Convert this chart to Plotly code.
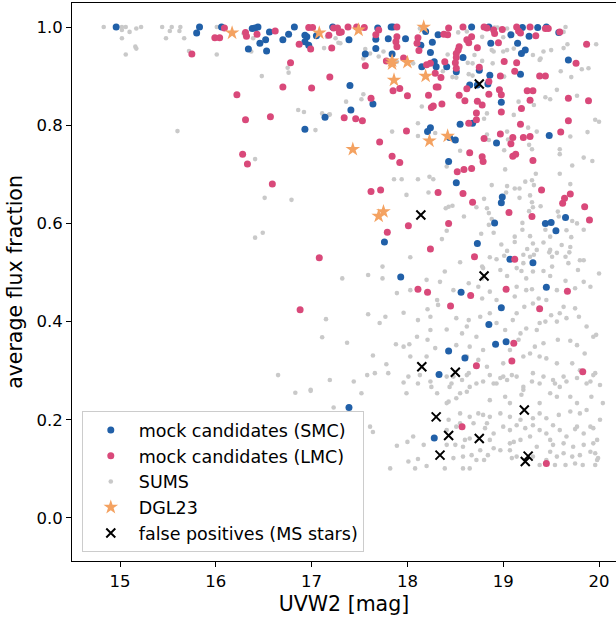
import plotly.graph_objects as go

# ---------------- data (UVW2 magnitude, average flux fraction) ----------------
smc_points = [
    (14.96, 1.0), (15.83, 1.0), (15.80, 0.988), (16.06, 1.0), (16.38, 0.997), (16.44, 1.0), (16.41, 0.998),
    (16.56, 0.990), (16.34, 0.955), (16.46, 0.967), (16.52, 0.974), (16.53, 0.951), (16.70, 0.974), (16.76, 0.985),
    (16.82, 1.0), (16.93, 0.983), (16.95, 0.980), (16.93, 0.970), (16.97, 0.963), (17.05, 0.982), (17.22, 1.0),
    (17.14, 0.816), (16.93, 0.792), (17.69, 0.998), (17.83, 1.0), (17.85, 1.0), (18.19, 0.991), (18.67, 1.0),
    (18.85, 1.0), (19.08, 0.984), (19.20, 0.999), (19.36, 0.999), (19.45, 1.0), (19.58, 0.989), (17.39, 0.974),
    (17.67, 0.975), (17.67, 0.956), (17.56, 0.945), (17.80, 0.976), (17.84, 0.945), (17.98, 0.976), (18.14, 0.963),
    (18.26, 0.969), (18.32, 0.984), (18.24, 0.948), (18.28, 0.929), (18.15, 0.919), (18.30, 0.919), (18.41, 0.919),
    (18.51, 0.909), (18.58, 0.938), (18.87, 0.967), (19.15, 0.967), (19.19, 0.946), (19.23, 0.953), (18.75, 0.912),
    (18.86, 0.902), (19.18, 0.904), (19.68, 0.933), (17.40, 0.881), (18.65, 0.882), (18.73, 0.882), (18.84, 0.884),
    (18.98, 0.847), (17.41, 0.831), (17.64, 0.843), (18.24, 0.795), (18.21, 0.787), (18.55, 0.802), (18.50, 0.770),
    (18.44, 0.775), (18.68, 0.804), (18.93, 0.764), (19.48, 0.779), (18.43, 0.726), (18.51, 0.683), (18.99, 0.654),
    (18.98, 0.642), (19.65, 0.612), (19.44, 0.600), (19.50, 0.602), (19.55, 0.585), (18.91, 0.601), (17.76, 0.562),
    (18.73, 0.559), (19.07, 0.527), (19.31, 0.520), (17.93, 0.491), (19.45, 0.470), (18.56, 0.460), (18.98, 0.428),
    (18.85, 0.394), (18.92, 0.354), (19.03, 0.359), (18.43, 0.340), (18.60, 0.326), (18.33, 0.292), (17.39, 0.225),
    (18.28, 0.163), (19.27, 0.981),
]

lmc_points = [
    (16.09, 0.998), (15.99, 0.978), (16.04, 0.978), (15.75, 0.945), (16.31, 0.989), (16.32, 0.981), (16.43, 0.985),
    (16.62, 0.992), (16.87, 0.965), (16.97, 0.999), (17.01, 0.999), (16.99, 0.955), (17.18, 0.983), (17.21, 0.957),
    (17.23, 0.998), (17.29, 0.989), (16.78, 0.927), (17.19, 0.898), (16.70, 0.878), (17.00, 0.876), (16.22, 0.862),
    (16.31, 0.811), (16.57, 0.817), (16.28, 0.741), (16.33, 0.721), (16.59, 0.680), (17.08, 0.530), (16.88, 0.424),
    (17.27, 0.998), (17.38, 1.0), (17.47, 1.0), (17.55, 0.999), (17.89, 1.0), (18.43, 0.998), (18.58, 1.0),
    (18.80, 1.0), (18.83, 0.998), (18.90, 0.994), (18.99, 0.995), (19.14, 1.0), (19.16, 0.992), (19.18, 0.988),
    (19.28, 1.0), (19.34, 0.982), (19.44, 0.997), (19.47, 0.997), (17.31, 0.990), (17.67, 0.984), (17.70, 0.994),
    (17.89, 0.980), (17.88, 0.970), (17.89, 0.960), (18.11, 0.978), (18.10, 0.967), (18.12, 0.952), (18.38, 0.985),
    (18.42, 0.984), (18.67, 0.980), (18.62, 0.974), (18.64, 0.968), (18.73, 0.958), (18.54, 0.960), (18.53, 0.953),
    (18.51, 0.946), (18.51, 0.938), (18.50, 0.927), (18.51, 0.916), (18.39, 0.929), (18.24, 0.926), (18.20, 0.923),
    (18.29, 0.906), (18.35, 0.897), (18.30, 0.878), (18.32, 0.878), (18.22, 0.861), (18.27, 0.839), (18.25, 0.836),
    (18.36, 0.843), (18.54, 0.861), (18.60, 0.850), (18.62, 0.874), (18.75, 0.918), (18.73, 0.849), (18.78, 0.841),
    (18.85, 0.863), (18.85, 0.889), (18.97, 0.900), (19.01, 0.930), (19.14, 0.927), (19.12, 0.910), (18.96, 0.872),
    (18.98, 0.862), (18.98, 0.827), (18.72, 0.825), (18.64, 0.804), (18.72, 0.811), (19.25, 0.870), (19.31, 0.870),
    (19.28, 0.851), (19.19, 0.834), (19.38, 0.900), (19.44, 0.900), (19.76, 0.926), (19.87, 0.965), (19.68, 0.855),
    (19.89, 0.850), (19.68, 0.809), (19.18, 0.802), (19.60, 0.786), (19.28, 0.777), (19.21, 0.775), (19.10, 0.775),
    (19.08, 0.762), (18.97, 0.782), (18.80, 0.773), (18.65, 0.744), (18.78, 0.736), (18.79, 0.726), (19.10, 0.737),
    (19.13, 0.741), (19.31, 0.728), (18.52, 0.705), (18.59, 0.710), (18.67, 0.712), (18.32, 0.663), (18.58, 0.661),
    (18.68, 0.643), (19.40, 0.668), (19.62, 0.641), (19.64, 0.651), (19.70, 0.660), (19.85, 0.634), (19.90, 0.607),
    (19.30, 0.614), (19.06, 0.622), (18.43, 0.600), (18.01, 0.595), (17.79, 0.582), (18.24, 0.548), (18.70, 0.532),
    (19.12, 0.527), (18.11, 0.466), (18.21, 0.460), (19.03, 0.466), (19.67, 0.462), (18.66, 0.453), (18.45, 0.432),
    (19.38, 0.426), (19.11, 0.356), (19.09, 0.320), (18.72, 0.310), (19.83, 0.298), (17.62, 0.665), (17.72, 0.668),
    (17.56, 0.921), (17.62, 0.855), (17.34, 0.815), (17.46, 0.813), (17.53, 0.809), (17.71, 0.766), (17.84, 0.737),
    (17.92, 0.724), (17.99, 0.788), (17.85, 0.870), (17.92, 0.875), (18.00, 0.860), (17.78, 0.931), (17.96, 0.937),
    (18.57, 0.186), (19.45, 0.111), (18.95, 0.968), (18.91, 0.987), (19.59, 0.990),
]

sums_points = [
    (14.83, 1.0), (15.02, 1.0), (15.06, 1.0), (15.02, 0.994), (15.10, 0.990), (15.02, 0.977), (15.17, 0.997),
    (15.22, 1.0), (15.06, 0.944), (15.16, 0.960), (15.17, 0.956), (15.44, 1.0), (15.54, 1.0), (15.52, 0.992),
    (15.48, 0.977), (15.63, 1.0), (15.62, 0.992), (15.67, 0.977), (15.72, 0.951), (16.01, 1.0), (16.01, 0.944),
    (16.39, 0.977), (16.37, 0.950), (16.29, 0.987), (16.48, 0.900), (16.75, 0.917), (16.76, 0.907), (16.86, 0.831),
    (16.92, 0.827), (17.11, 0.824), (17.18, 0.821), (17.04, 0.790), (15.60, 0.788), (16.41, 0.731), (16.51, 0.652),
    (16.79, 0.648), (17.16, 0.980), (17.13, 0.957), (17.25, 0.977), (17.28, 0.968),
    (16.41, 0.571), (16.49, 0.581), (17.15, 0.405), (17.11, 0.368), (16.65, 0.291), (16.99, 0.261),
    (16.83, 0.255), (16.99, 0.259), (17.23, 0.225),
    (17.30, 0.967), (17.56, 0.955), (17.61, 0.946), (17.70, 0.940), (17.75, 0.950), (17.54, 0.936), (17.89, 0.929),
    (18.06, 0.926), (18.13, 0.997), (18.53, 0.989), (18.62, 0.991), (18.78, 0.980), (18.91, 0.999), (18.94, 0.999),
    (19.00, 0.979), (18.88, 0.953), (18.90, 0.950), (19.00, 0.950), (19.04, 0.953), (19.31, 0.943), (19.38, 0.933),
    (19.42, 0.950), (19.50, 0.953), (19.63, 0.990), (19.65, 1.0), (19.67, 0.965), (19.97, 0.965), (19.82, 0.914),
    (19.89, 0.916), (19.71, 0.898), (19.60, 0.910), (19.56, 0.872), (19.44, 0.857), (19.49, 0.853), (19.77, 0.860),
    (19.32, 0.841), (19.16, 0.848), (19.11, 0.821), (19.26, 0.795), (19.35, 0.787), (19.70, 0.777), (19.88, 0.786),
    (19.96, 0.811), (20.00, 0.807), (19.59, 0.751), (19.59, 0.741), (19.84, 0.734), (19.93, 0.727), (19.72, 0.718),
    (19.59, 0.701), (19.34, 0.701), (19.30, 0.688), (19.23, 0.685), (19.32, 0.678), (19.04, 0.676), (19.03, 0.663),
    (18.88, 0.678), (19.02, 0.710), (19.01, 0.749), (19.27, 0.760), (18.85, 0.770), (18.83, 0.781), (18.55, 0.748),
    (18.41, 0.716), (18.23, 0.695), (18.11, 0.690), (17.94, 0.690), (17.86, 0.690), (17.99, 0.658), (18.22, 0.663),
    (18.11, 0.778), (17.84, 0.787), (18.11, 0.804), (18.29, 0.784), (19.12, 0.671), (19.70, 0.680), (17.36, 0.848),
    (17.52, 0.853), (17.54, 0.863), (17.19, 0.822), (18.37, 0.910), (18.42, 0.944), (18.63, 0.927), (18.64, 0.904),
    (18.70, 0.943), (18.68, 0.926), (18.78, 0.931), (18.89, 0.926), (19.01, 0.899), (18.51, 0.897), (18.47, 0.898),
    (18.15, 0.838), (18.83, 0.824), (18.80, 0.813), (19.04, 0.787), (19.05, 0.771), (19.30, 0.751), (19.17, 0.671),
    (19.28, 0.657), (19.30, 0.643), (18.80, 0.650), (18.83, 0.631), (18.85, 0.621), (18.88, 0.609), (18.85, 0.597),
    (18.90, 0.581), (18.72, 0.633), (19.17, 0.652), (19.27, 0.625), (19.39, 0.635), (19.31, 0.633), (19.57, 0.624),
    (19.58, 0.614), (19.72, 0.605), (19.66, 0.586), (19.71, 0.572), (19.20, 0.601), (19.20, 0.587), (19.44, 0.587),
    (19.42, 0.561), (19.12, 0.562), (18.98, 0.557), (19.04, 0.544), (19.25, 0.548), (19.32, 0.536), (19.48, 0.541),
    (19.56, 0.540), (19.51, 0.532), (19.65, 0.532), (19.69, 0.541), (19.80, 0.525), (18.78, 0.512), (18.86, 0.531),
    (18.93, 0.527), (19.21, 0.519), (19.51, 0.512), (19.84, 0.587), (19.77, 0.600), (19.11, 0.956), (19.39, 0.936),
    (19.63, 0.957), (18.68, 0.901), (19.04, 0.997),
    (18.40, 0.631), (18.43, 0.634), (18.47, 0.636), (18.59, 0.614), (18.41, 0.585), (18.36, 0.568), (18.03, 0.531),
    (17.74, 0.512), (18.55, 0.521), (18.27, 0.690),
    (18.77, 0.579), (19.12, 0.573), (19.28, 0.574), (19.35, 0.546), (19.68, 0.519), (19.78, 0.505), (20.00, 0.498),
    (19.84, 0.481), (19.91, 0.471), (19.75, 0.468), (19.65, 0.483), (19.56, 0.464), (19.49, 0.493), (19.42, 0.503),
    (19.31, 0.502), (19.24, 0.488), (19.19, 0.503), (19.14, 0.471), (19.24, 0.464), (19.30, 0.466), (19.37, 0.447),
    (19.45, 0.444), (19.31, 0.437), (19.22, 0.430), (19.14, 0.417), (19.10, 0.403), (19.24, 0.386), (19.35, 0.383),
    (19.38, 0.397), (19.44, 0.400), (19.50, 0.413), (19.56, 0.400), (19.59, 0.417), (19.66, 0.407), (19.75, 0.427),
    (19.79, 0.410), (19.63, 0.430), (19.87, 0.390), (19.94, 0.369), (19.97, 0.373), (19.85, 0.335), (19.77, 0.352),
    (19.70, 0.361), (19.57, 0.363), (19.42, 0.356), (19.33, 0.349), (19.28, 0.335), (19.21, 0.329), (19.38, 0.329),
    (19.45, 0.325), (19.56, 0.315), (19.72, 0.315), (19.80, 0.301), (19.96, 0.295), (19.91, 0.278), (19.63, 0.288),
    (19.54, 0.274), (19.42, 0.288), (19.31, 0.295), (19.30, 0.278), (19.21, 0.267), (19.14, 0.288), (19.00, 0.288),
    (18.93, 0.274), (18.86, 0.291), (18.79, 0.278), (18.72, 0.274), (18.62, 0.291), (18.57, 0.281), (18.41, 0.288),
    (18.24, 0.278), (18.13, 0.291), (18.01, 0.288), (17.96, 0.276), (17.80, 0.295), (17.66, 0.295), (17.58, 0.291),
    (17.44, 0.278), (17.78, 0.313), (17.64, 0.331), (18.03, 0.329), (17.96, 0.349), (17.88, 0.354), (18.02, 0.354),
    (18.20, 0.329), (18.29, 0.346), (18.21, 0.363), (18.10, 0.369), (18.24, 0.383), (18.41, 0.384), (18.57, 0.376),
    (18.72, 0.369), (18.79, 0.342), (18.65, 0.349), (18.51, 0.352), (18.62, 0.329), (18.74, 0.322), (18.83, 0.308),
    (19.00, 0.315), (19.07, 0.342), (19.16, 0.363), (19.18, 0.376), (19.02, 0.383), (18.93, 0.397), (18.86, 0.417),
    (18.76, 0.410), (18.64, 0.403), (18.51, 0.407), (18.62, 0.390), (18.32, 0.434), (18.24, 0.410), (18.11, 0.403),
    (17.96, 0.418), (17.77, 0.410), (17.71, 0.397), (17.59, 0.415), (17.37, 0.357), (17.89, 0.458), (18.03, 0.464),
    (17.59, 0.495), (17.74, 0.488), (17.32, 0.488), (18.39, 0.502), (18.79, 0.509), (18.97, 0.505), (19.04, 0.493),
    (19.14, 0.509), (19.12, 0.451), (18.93, 0.444), (18.86, 0.461), (18.78, 0.447), (18.74, 0.471), (18.78, 0.488),
    (18.64, 0.478), (18.48, 0.464), (18.34, 0.481), (18.20, 0.485), (18.31, 0.444), (18.21, 0.425), (19.01, 0.534),
    (19.21, 0.536), (19.28, 0.532), (19.31, 0.559), (19.49, 0.546), (19.61, 0.556), (19.70, 0.552), (19.49, 0.573),
    (19.84, 0.525),
    (18.48, 0.288), (18.64, 0.295), (18.90, 0.274), (18.97, 0.285), (19.04, 0.281), (19.09, 0.291), (19.21, 0.261),
    (19.19, 0.251), (19.38, 0.274), (19.52, 0.281), (19.59, 0.267), (19.66, 0.278), (19.77, 0.285), (19.87, 0.274),
    (19.94, 0.291), (20.01, 0.271), (18.46, 0.274), (18.55, 0.254), (18.62, 0.257), (18.41, 0.234), (18.86, 0.240),
    (19.02, 0.247), (19.07, 0.234), (19.38, 0.234), (19.49, 0.254), (19.56, 0.247), (19.70, 0.247), (19.77, 0.234),
    (19.92, 0.247), (20.04, 0.234), (19.87, 0.220), (19.80, 0.213), (19.70, 0.217), (19.58, 0.210), (19.45, 0.203),
    (19.38, 0.213), (19.31, 0.203), (19.18, 0.200), (19.07, 0.206), (18.97, 0.213), (18.86, 0.206), (18.74, 0.213),
    (18.55, 0.213), (18.55, 0.193), (18.69, 0.193), (18.81, 0.183), (18.90, 0.172), (19.00, 0.186), (19.07, 0.179),
    (19.14, 0.189), (19.23, 0.183), (19.31, 0.189), (19.38, 0.179), (19.45, 0.172), (19.52, 0.189), (19.59, 0.179),
    (19.66, 0.166), (19.77, 0.186), (19.84, 0.172), (19.94, 0.183), (20.01, 0.200), (19.94, 0.152), (19.84, 0.149),
    (19.73, 0.145), (19.63, 0.152), (19.52, 0.149), (19.49, 0.159), (19.35, 0.145), (19.28, 0.166), (19.18, 0.159),
    (19.11, 0.155), (19.07, 0.138), (19.14, 0.125), (19.31, 0.125), (19.45, 0.118), (19.49, 0.135), (19.56, 0.125),
    (19.63, 0.132), (19.72, 0.125), (19.80, 0.128), (19.91, 0.135), (19.99, 0.122), (19.75, 0.111), (19.65, 0.108),
    (19.54, 0.108), (19.38, 0.108), (19.09, 0.122), (18.97, 0.138), (18.84, 0.128), (18.76, 0.138), (18.67, 0.128),
    (18.58, 0.125), (18.48, 0.122), (18.58, 0.145), (18.60, 0.159), (18.50, 0.149), (18.86, 0.159),
    (17.82, 0.101), (17.89, 0.147), (18.00, 0.155), (18.01, 0.115), (18.08, 0.101), (18.11, 0.120), (18.20, 0.106),
    (18.39, 0.101), (18.58, 0.101), (18.65, 0.101), (18.41, 0.149), (18.72, 0.118), (18.80, 0.118), (18.90, 0.142),
    (19.07, 0.152), (19.83, 0.108), (19.96, 0.108), (19.98, 0.118), (19.96, 0.132), (19.98, 0.159), (19.91, 0.186),
    (19.75, 0.181), (17.61, 0.186), (17.64, 0.175), (17.52, 0.254), (17.99, 0.254), (18.11, 0.274), (18.25, 0.267),
    (18.31, 0.254), (18.44, 0.267), (18.43, 0.237), (18.51, 0.244), (18.65, 0.267), (18.79, 0.210), (18.83, 0.193),
    (18.65, 0.206), (18.51, 0.186), (18.43, 0.200), (18.41, 0.179), (18.17, 0.149), (18.06, 0.166), (18.65, 0.162),
    (17.19, 0.281),
]

dgl23_points = [
    (16.17, 0.988), (17.08, 0.988), (17.49, 0.994), (18.17, 1.0), (17.84, 0.931), (17.84, 0.925), (18.00, 0.928),
    (17.86, 0.892), (18.19, 0.900), (18.42, 0.778), (18.23, 0.768), (17.43, 0.751), (17.75, 0.624), (17.70, 0.615),
]

false_pos_points = [
    (18.75, 0.884), (18.14, 0.617), (18.80, 0.493), (18.15, 0.308), (18.50, 0.297), (18.30, 0.206), (18.43, 0.168),
    (18.75, 0.162), (18.34, 0.128), (19.22, 0.220), (19.26, 0.126), (19.23, 0.115),
]

x_ticks = [15, 16, 17, 18, 19, 20]
y_ticks = [0.0, 0.2, 0.4, 0.6, 0.8, 1.0]


def split(points):
    return [p[0] for p in points], [p[1] for p in points]


FONT = "DejaVu Sans"
fig = go.Figure()

sx, sy = split(sums_points)
fig.add_trace(go.Scatter(x=sx, y=sy, mode="markers", name="SUMS", legendrank=3,
                         marker=dict(size=4.6, color="#c9c9c9", line=dict(width=0))))
bx, by = split(smc_points)
fig.add_trace(go.Scatter(x=bx, y=by, mode="markers", name="mock candidates (SMC)", legendrank=1,
                         marker=dict(size=7, color="#2160a8", line=dict(width=0))))
px_, py_ = split(lmc_points)
fig.add_trace(go.Scatter(x=px_, y=py_, mode="markers", name="mock candidates (LMC)", legendrank=2,
                         marker=dict(size=7, color="#d9497a", line=dict(width=0))))
dx, dy = split(dgl23_points)
fig.add_trace(go.Scatter(x=dx, y=dy, mode="markers", name="DGL23", legendrank=4,
                         marker=dict(size=11, symbol="star", color="#f4a261", line=dict(width=0))))
fx, fy = split(false_pos_points)
fig.add_trace(go.Scatter(x=fx, y=fy, mode="markers", name="false positives (MS stars)", legendrank=5,
                         marker=dict(size=9, symbol="x-thin", color="black",
                                     line=dict(width=2, color="black"))))

axis_common = dict(showgrid=False, zeroline=False, showline=True, linecolor="black", linewidth=1.1,
                   mirror=True, ticks="outside", ticklen=5, tickwidth=1.1, tickcolor="black",
                   tickfont=dict(size=16.5, family=FONT, color="black"))

fig.update_layout(
    width=616, height=617,
    margin=dict(l=72, r=0, t=3, b=56),
    plot_bgcolor="white", paper_bgcolor="white",
    font=dict(family=FONT, color="black"),
    xaxis=dict(range=[14.499, 20.177], tickvals=x_ticks, ticktext=[str(t) for t in x_ticks],
               title=dict(text="UVW2 [mag]", font=dict(size=20.5, family=FONT), standoff=6),
               **axis_common),
    yaxis=dict(range=[-0.0876, 1.0489], tickvals=y_ticks, tickformat=".1f",
               title=dict(text="average flux fraction", font=dict(size=20.5, family=FONT), standoff=8),
               **axis_common),
    legend=dict(x=0.018, y=0.016, xanchor="left", yanchor="bottom",
                bgcolor="rgba(255,255,255,0.85)", bordercolor="#cccccc", borderwidth=1,
                font=dict(size=17.5, family=FONT, color="black"), itemwidth=46,
                tracegroupgap=0),
    showlegend=True,
)

fig.write_html("out.html")
